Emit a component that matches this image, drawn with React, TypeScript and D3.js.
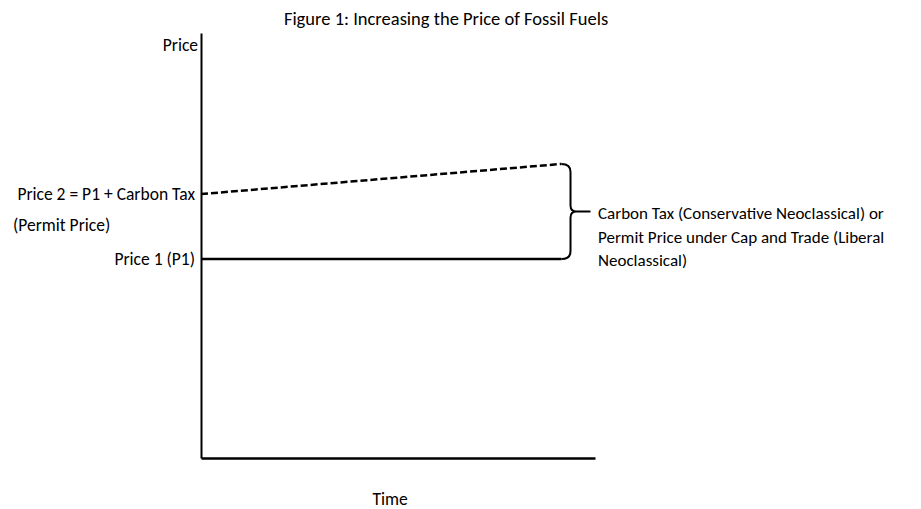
import React, { useEffect, useRef } from 'react';
import * as d3 from 'd3';

const title = 'Figure 1: Increasing the Price of Fossil Fuels';
const xLabel = 'Time';
const yLabel = 'Price';
const timeDomain = [0, 10];
const priceDomain = [0, 100];
// [time, price] points
const price1 = [[0, 46.8], [9.15, 46.8]];
const price2 = [[0, 62.1], [9.15, 69.2]];
const price2Label = ['Price 2 = P1 + Carbon Tax', '(Permit Price)'];
const price1Label = 'Price 1 (P1)';
const braceLabel = [
  'Carbon Tax (Conservative Neoclassical)  or',
  'Permit Price under Cap and Trade (Liberal',
  'Neoclassical)',
];

const FONT = "Carlito, Lato, sans-serif";

export default function App() {
  const ref = useRef<SVGSVGElement>(null);

  useEffect(() => {
    const width = 921;
    const height = 509;
    const svg = d3.select(ref.current).attr('width', width).attr('height', height);
    svg.selectAll('*').remove();

    const x = d3.scaleLinear().domain(timeDomain).range([201, 595]);
    const y = d3.scaleLinear().domain(priceDomain).range([458, 33]);

    const g = svg.append('g').style('font-family', FONT).attr('fill', '#000');

    // axes: plain lines, no ticks
    g.append('g')
      .attr('transform', `translate(${x(0)},0)`)
      .call(d3.axisLeft(y).tickValues([]).tickSizeOuter(0))
      .select('.domain').attr('stroke', '#000').attr('stroke-width', 2);
    g.append('g')
      .attr('transform', `translate(0,${y(0)})`)
      .call(d3.axisBottom(x).tickValues([]).tickSizeOuter(0))
      .select('.domain').attr('stroke', '#000').attr('stroke-width', 2.5);

    const line = d3.line<number[]>().x(d => x(d[0])).y(d => y(d[1]));

    g.append('path').attr('d', line(price1 as any))
      .attr('fill', 'none').attr('stroke', '#000').attr('stroke-width', 2.5);
    g.append('path').attr('d', line(price2 as any))
      .attr('fill', 'none').attr('stroke', '#000').attr('stroke-width', 2.5)
      .attr('stroke-dasharray', '7,3');

    // brace between the two price ends
    const x0 = x(price1[1][0]);
    const xv = x0 + 9;
    const yTop = y(price2[1][1]);
    const yBot = y(price1[1][1]);
    const yMid = (yTop + yBot) / 2;
    const brace = `M${x0},${yTop} Q${xv},${yTop} ${xv},${yTop + 8} L${xv},${yMid - 6} Q${xv},${yMid} ${xv + 6},${yMid}`
      + ` M${xv + 6},${yMid} Q${xv},${yMid} ${xv},${yMid + 6} L${xv},${yBot - 8} Q${xv},${yBot} ${x0},${yBot}`
      + ` M${xv + 6},${yMid} L${xv + 20},${yMid}`;
    g.append('path').attr('d', brace).attr('fill', 'none')
      .attr('stroke', '#000').attr('stroke-width', 2);

    // texts
    g.append('text').attr('x', 446).attr('y', 18).attr('text-anchor', 'middle')
      .attr('dominant-baseline', 'central').style('font-size', '18.5px').text(title);
    g.append('text').attr('x', x(0) - 3).attr('y', 45).attr('text-anchor', 'end')
      .attr('dominant-baseline', 'central').style('font-size', '17.5px').text(yLabel);
    g.append('text').attr('x', 390).attr('y', 499).attr('text-anchor', 'middle')
      .attr('dominant-baseline', 'central').style('font-size', '17.5px').text(xLabel);

    g.append('text').attr('x', x(0) - 6).attr('y', y(price2[0][1]))
      .attr('text-anchor', 'end').attr('dominant-baseline', 'central')
      .style('font-size', '17.5px').text(price2Label[0]);
    g.append('text').attr('x', 13).attr('y', y(price2[0][1]) + 31)
      .attr('dominant-baseline', 'central').style('font-size', '17.5px').text(price2Label[1]);
    g.append('text').attr('x', x(0) - 6).attr('y', yBot)
      .attr('text-anchor', 'end').attr('dominant-baseline', 'central')
      .style('font-size', '17.5px').text(price1Label);

    braceLabel.forEach((t, i) => {
      g.append('text').attr('x', 598).attr('y', yMid + 2 + i * 23.5)
        .attr('dominant-baseline', 'central').style('font-size', '17px').text(t);
    });
  }, []);

  return <svg ref={ref} style={{ position: 'absolute', left: 0, top: 0 }} />;
}
